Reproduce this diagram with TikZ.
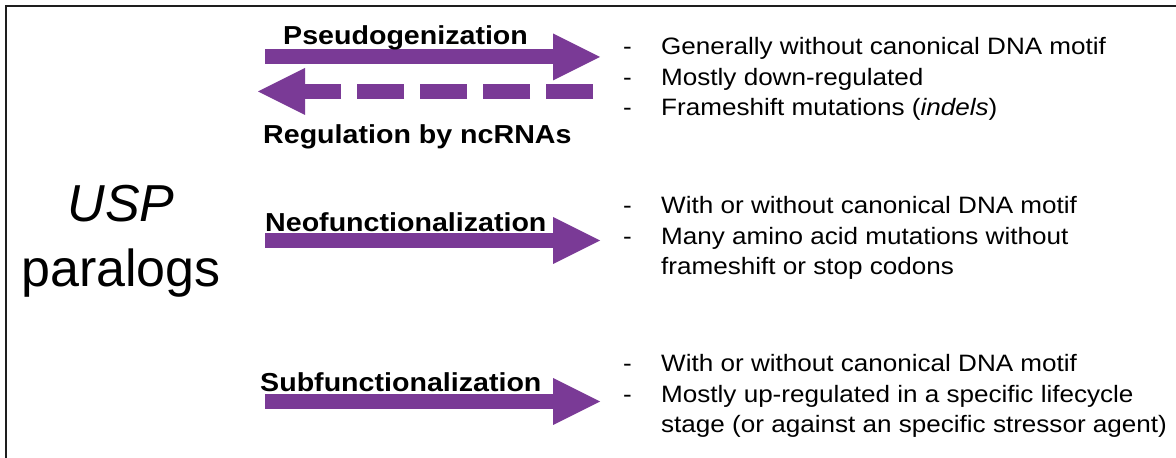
\documentclass[tikz,border=0pt]{standalone}
\usepackage{fontspec}
\setmainfont{Liberation Sans}[FakeStretch=1.1]
\newfontfamily\bigsans{Liberation Sans}
\usetikzlibrary{arrows.meta,positioning}
\definecolor{cP}{HTML}{7A3A96}
\definecolor{cK}{HTML}{1E1E1E}
\tikzset{
  blockarrow/.style={draw=cP,line width=15pt,
    -{Triangle[length=47pt,width=47pt,line width=0pt]}},
  dasharrow/.style={blockarrow,dash pattern=on 47pt off 16pt},
  lbl/.style={font=\fontsize{26}{30}\selectfont\bfseries,inner sep=0pt,anchor=base west},
  lst/.style={font=\fontsize{23.7}{30.5}\selectfont,inner sep=0pt,anchor=base west},
}
\newcommand{\itemrows}[1]{\begin{tabular}[t]{@{}p{38pt}@{}l@{}}#1\end{tabular}}

\begin{document}
\begin{tikzpicture}[x=1pt,y=1pt]
  \useasboundingbox (0,0) rectangle (1176,458);
  \draw[cK,line width=2pt] (6,0) -- (6,452) -- (1176,452);
  \node[font=\bigsans\fontsize{52}{65}\selectfont,align=center] (usp) at (121,217)
    {\textit{USP}\\paralogs};
  % pseudogenes
  \coordinate (ps-a) at (265,401);
  \coordinate (ps-b) at (600,401);
  \coordinate (rg-a) at (593,366.5);
  \coordinate (rg-b) at (258,366.5);
  \draw[blockarrow] (ps-a) -- (ps-b);
  \draw[dasharrow] (rg-a) -- (rg-b);
  \node[lbl] (ps-lbl) at (283,413){Pseudogenization};
  \node[lbl] (rg-lbl) at (263,314){Regulation by ncRNAs};
  \node[lst] (ps-list) at (623,403){\itemrows{
    -&Generally without canonical DNA motif\\
    -&Mostly down-regulated\\
    -&Frameshift mutations (\textit{indels})}};
  % neofunctionalization
  \coordinate (nf-a) at (265,217.5);
  \coordinate (nf-b) at (600,217.5);
  \draw[blockarrow] (nf-a) -- (nf-b);
  \node[lbl] (nf-lbl) at (265,226){Neofunctionalization};
  \node[lst] (nf-list) at (623,244){\itemrows{
    -&With or without canonical DNA motif\\
    -&Many amino acid mutations without\\
     &frameshift or stop codons}};
  % subfunctionalization
  \coordinate (sf-a) at (265,56.5);
  \coordinate (sf-b) at (600,56.5);
  \draw[blockarrow] (sf-a) -- (sf-b);
  \node[lbl] (sf-lbl) at (260,66){Subfunctionalization};
  \node[lst] (sf-list) at (623,86){\itemrows{
    -&With or without canonical DNA motif\\
    -&Mostly up-regulated in a specific lifecycle\\
     &stage (or against an specific stressor agent)}};
\end{tikzpicture}
\end{document}
